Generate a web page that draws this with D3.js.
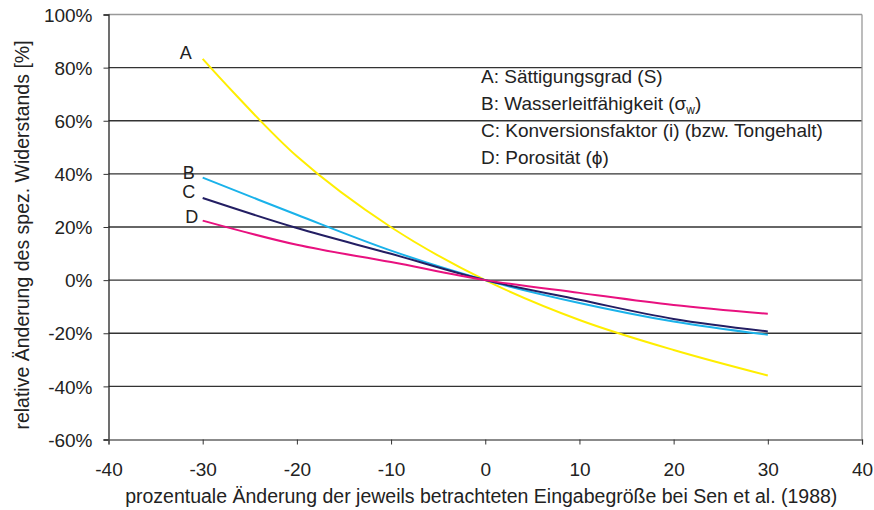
<!DOCTYPE html>
<html><head><meta charset="utf-8">
<script src="https://cdn.jsdelivr.net/npm/d3@7"></script>
<style>body{margin:0;background:#fff}text{font-family:"Liberation Sans",Arial,sans-serif;fill:#222}</style>
</head><body><svg id="c" width="874" height="510"></svg>
<script>
const xValues = [-30, -20, -10, 0, 10, 20, 30];
const seriesA = [83.3, 46.6, 19.9, 0, -15.0, -26.3, -35.9];
const seriesB = [38.6, 24.6, 11.1, 0, -8.6, -15.6, -20.6];
const seriesC = [30.9, 19.6, 9.9, 0, -7.4, -14.6, -19.3];
const seriesD = [22.4, 13.3, 6.8, 0, -4.8, -9.4, -12.7];
const seriesNames = ["A", "B", "C", "D"];
const seriesColors = ["#ffee00", "#1ab2ea", "#231e63", "#e8117f"];
const legendLines = ["A: Sättigungsgrad (S)", "B: Wasserleitfähigkeit (σ", "C: Konversionsfaktor (i) (bzw. Tongehalt)", "D: Porosität (ϕ)"];
const xTicks = [-40, -30, -20, -10, 0, 10, 20, 30, 40];
const yTicks = [-60, -40, -20, 0, 20, 40, 60, 80, 100];
const xTitle = "prozentuale Änderung der jeweils betrachteten Eingabegröße bei Sen et al. (1988)";
const yTitle = "relative Änderung des spez. Widerstands [%]";

const FONT = '"Liberation Sans",Arial,sans-serif';
const svg = d3.select("#c");
const L = 108.5, R = 862, T = 14.5, B = 439.5;
const x = d3.scaleLinear().domain([-40, 40]).range([L, R]);
const y = d3.scaleLinear().domain([-60, 100]).range([B, T]);

// gridlines
svg.append("g").selectAll("line").data(yTicks.filter(v => v > -60 && v < 100)).join("line")
  .attr("x1", L).attr("x2", R).attr("y1", d => y(d)).attr("y2", d => y(d))
  .attr("stroke", "#333").attr("stroke-width", 1.3);
// border top/right
svg.append("line").attr("x1", L).attr("x2", R).attr("y1", y(100)).attr("y2", y(100)).attr("stroke", "#999").attr("stroke-width", 1.3);
svg.append("line").attr("x1", R).attr("x2", R).attr("y1", T).attr("y2", B).attr("stroke", "#999").attr("stroke-width", 1.3);

// axes
const yAxis = svg.append("g").attr("transform", `translate(${L},0)`)
  .call(d3.axisLeft(y).tickValues(yTicks).tickFormat(d => String(d) + "%").tickSize(5).tickPadding(11));
const xAxis = svg.append("g").attr("transform", `translate(0,${B})`)
  .call(d3.axisBottom(x).tickValues(xTicks).tickFormat(d => String(d)).tickSize(5).tickPadding(18));
[yAxis, xAxis].forEach(a => {
  a.selectAll("text").attr("font-size", 19).style("font-family", FONT).attr("fill", "#222");
  a.selectAll("line").attr("stroke", "#333");
  a.select(".domain").attr("stroke", "#222").attr("stroke-width", 1.3);
});
yAxis.selectAll(".tick text").attr("dy", "0.35em");
xAxis.select(".domain").attr("stroke", "#666");

// lines
const all = [seriesA, seriesB, seriesC, seriesD];
const line = d3.line().x((d, i) => x(xValues[i])).y(d => y(d)).curve(d3.curveCatmullRom.alpha(0.5));
all.forEach((s, k) => {
  svg.append("path").datum(s).attr("d", line).attr("fill", "none")
    .attr("stroke", seriesColors[k]).attr("stroke-width", 2);
});

// series labels
const labelOffsets = [[-17, 0], [-14, 1], [-14, 0], [-11, 2]];
all.forEach((s, k) => {
  svg.append("text").attr("x", x(xValues[0]) + labelOffsets[k][0]).attr("y", y(s[0]) + labelOffsets[k][1])
    .attr("text-anchor", "middle").attr("font-size", 18).text(seriesNames[k]);
});

// legend
const lg = svg.append("g").attr("transform", "translate(481,0)");
const legendY = [83, 110, 137, 164];
legendLines.forEach((t, i) => {
  const tx = lg.append("text").attr("x", 0).attr("y", legendY[i]).attr("font-size", 19);
  tx.append("tspan").text(t);
  if (i === 1) {
    tx.append("tspan").attr("font-size", 12).attr("dy", 4).text("w");
    tx.append("tspan").attr("dy", -4).text(")");
  }
});

// titles
svg.append("text").attr("x", (L + R) / 2 - 4).attr("y", 503).attr("text-anchor", "middle").attr("font-size", 19.5).text(xTitle);
svg.append("text").attr("transform", `translate(29,${(T + B) / 2 + 8}) rotate(-90)`).attr("text-anchor", "middle").attr("font-size", 19.5).text(yTitle);
</script></body></html>
